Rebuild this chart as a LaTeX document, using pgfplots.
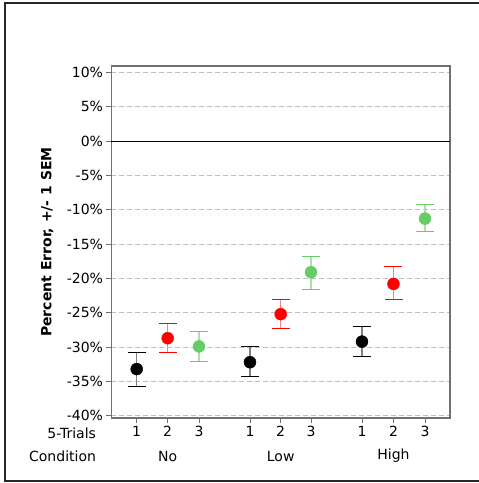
\documentclass[border=0pt]{standalone}
\usepackage{fontspec}
\setmainfont{DejaVu Sans}
\usepackage{pgfplots}
\pgfplotsset{compat=1.18}
\definecolor{myred}{RGB}{255,0,0}
\definecolor{lred}{RGB}{255,130,130}
\definecolor{mygreen}{RGB}{102,204,102}
\definecolor{lgreen}{RGB}{170,225,170}
\definecolor{lblack}{RGB}{128,128,128}
\definecolor{frame}{RGB}{112,112,112}
\begin{document}
\begin{tikzpicture}
\useasboundingbox (0pt,0pt) rectangle (479pt,483pt);
\draw[line width=1.2pt, black!85] (5pt,2pt) rectangle (482pt,480pt);
\begin{axis}[
  at={(111.5pt,65pt)}, anchor=south west,
  scale only axis, width=338.5pt, height=352pt,
  xmin=111.5, xmax=450, ymin=-40.32, ymax=10.92,
  axis line style={frame, line width=1.3pt},
  xtick={136.7,167.7,199,250,280.7,311,362,393.5,425},
  xticklabels={1,2,3,1,2,3,1,2,3},
  ytick={-40,-35,-30,-25,-20,-15,-10,-5,5,10},
  extra y ticks={0},
  extra y tick style={grid style={solid, black, line width=0.8pt}},
  yticklabel={\pgfmathprintnumber{\tick}\%},
  /pgf/number format/assume math mode=true,
  tick label style={font=\fontsize{14}{16}\selectfont},
  ymajorgrids,
  grid style={dashed, dash pattern=on 5pt off 3pt, gray!50, line width=0.7pt},
  tick align=outside, tick pos=left,
  major tick length=5pt,
  tick style={frame, line width=0.8pt},
  ylabel={\bfseries Percent Error, +/- 1 SEM},
  ylabel style={font=\fontsize{14}{16}\selectfont, at={(axis description cs:-0.19,0.5)}, anchor=center},
  clip=false,
  error bars/y dir=both, error bars/y explicit,
]
\addplot[only marks, mark=*, mark size=6pt, black,
  error bars/error bar style={lblack, line width=1.5pt},
  error bars/error mark options={rotate=90, black, line width=1pt, mark size=9pt}]
  coordinates {
  (136.7,-33.2) += (0,2.4) -= (0,2.5)
  (250,-32.2) += (0,2.25) -= (0,2.15)
  (362,-29.2) += (0,2.2) -= (0,2.2)
  };
\addplot[only marks, mark=*, mark size=6pt, myred,
  error bars/error bar style={lred, line width=1.5pt},
  error bars/error mark options={rotate=90, myred, line width=1pt, mark size=9pt}]
  coordinates {
  (167.7,-28.7) += (0,2.2) -= (0,2.1)
  (280.7,-25.2) += (0,2.2) -= (0,2.1)
  (393.5,-20.8) += (0,2.5) -= (0,2.2)
  };
\addplot[only marks, mark=*, mark size=6pt, mygreen,
  error bars/error bar style={lgreen, line width=1.5pt},
  error bars/error mark options={rotate=90, mygreen, line width=1pt, mark size=9pt}]
  coordinates {
  (199,-29.9) += (0,2.2) -= (0,2.2)
  (311,-19.1) += (0,2.3) -= (0,2.5)
  (425,-11.3) += (0,2.1) -= (0,1.9)
  };
\node[font=\fontsize{14}{16}\selectfont, anchor=east] at (axis cs:111.5,-40.32) [xshift=-12pt, yshift=-15pt] {5-Trials};
\node[font=\fontsize{14}{16}\selectfont, anchor=east] at (axis cs:111.5,-40.32) [xshift=-12pt, yshift=-38pt] {Condition};
\node[font=\fontsize{14}{16}\selectfont] at (axis cs:167.7,-40.32) [yshift=-38pt] {No};
\node[font=\fontsize{14}{16}\selectfont] at (axis cs:280.7,-40.32) [yshift=-38pt] {Low};
\node[font=\fontsize{14}{16}\selectfont] at (axis cs:393.5,-40.32) [yshift=-38pt] {High};
\end{axis}
\end{tikzpicture}
\end{document}
